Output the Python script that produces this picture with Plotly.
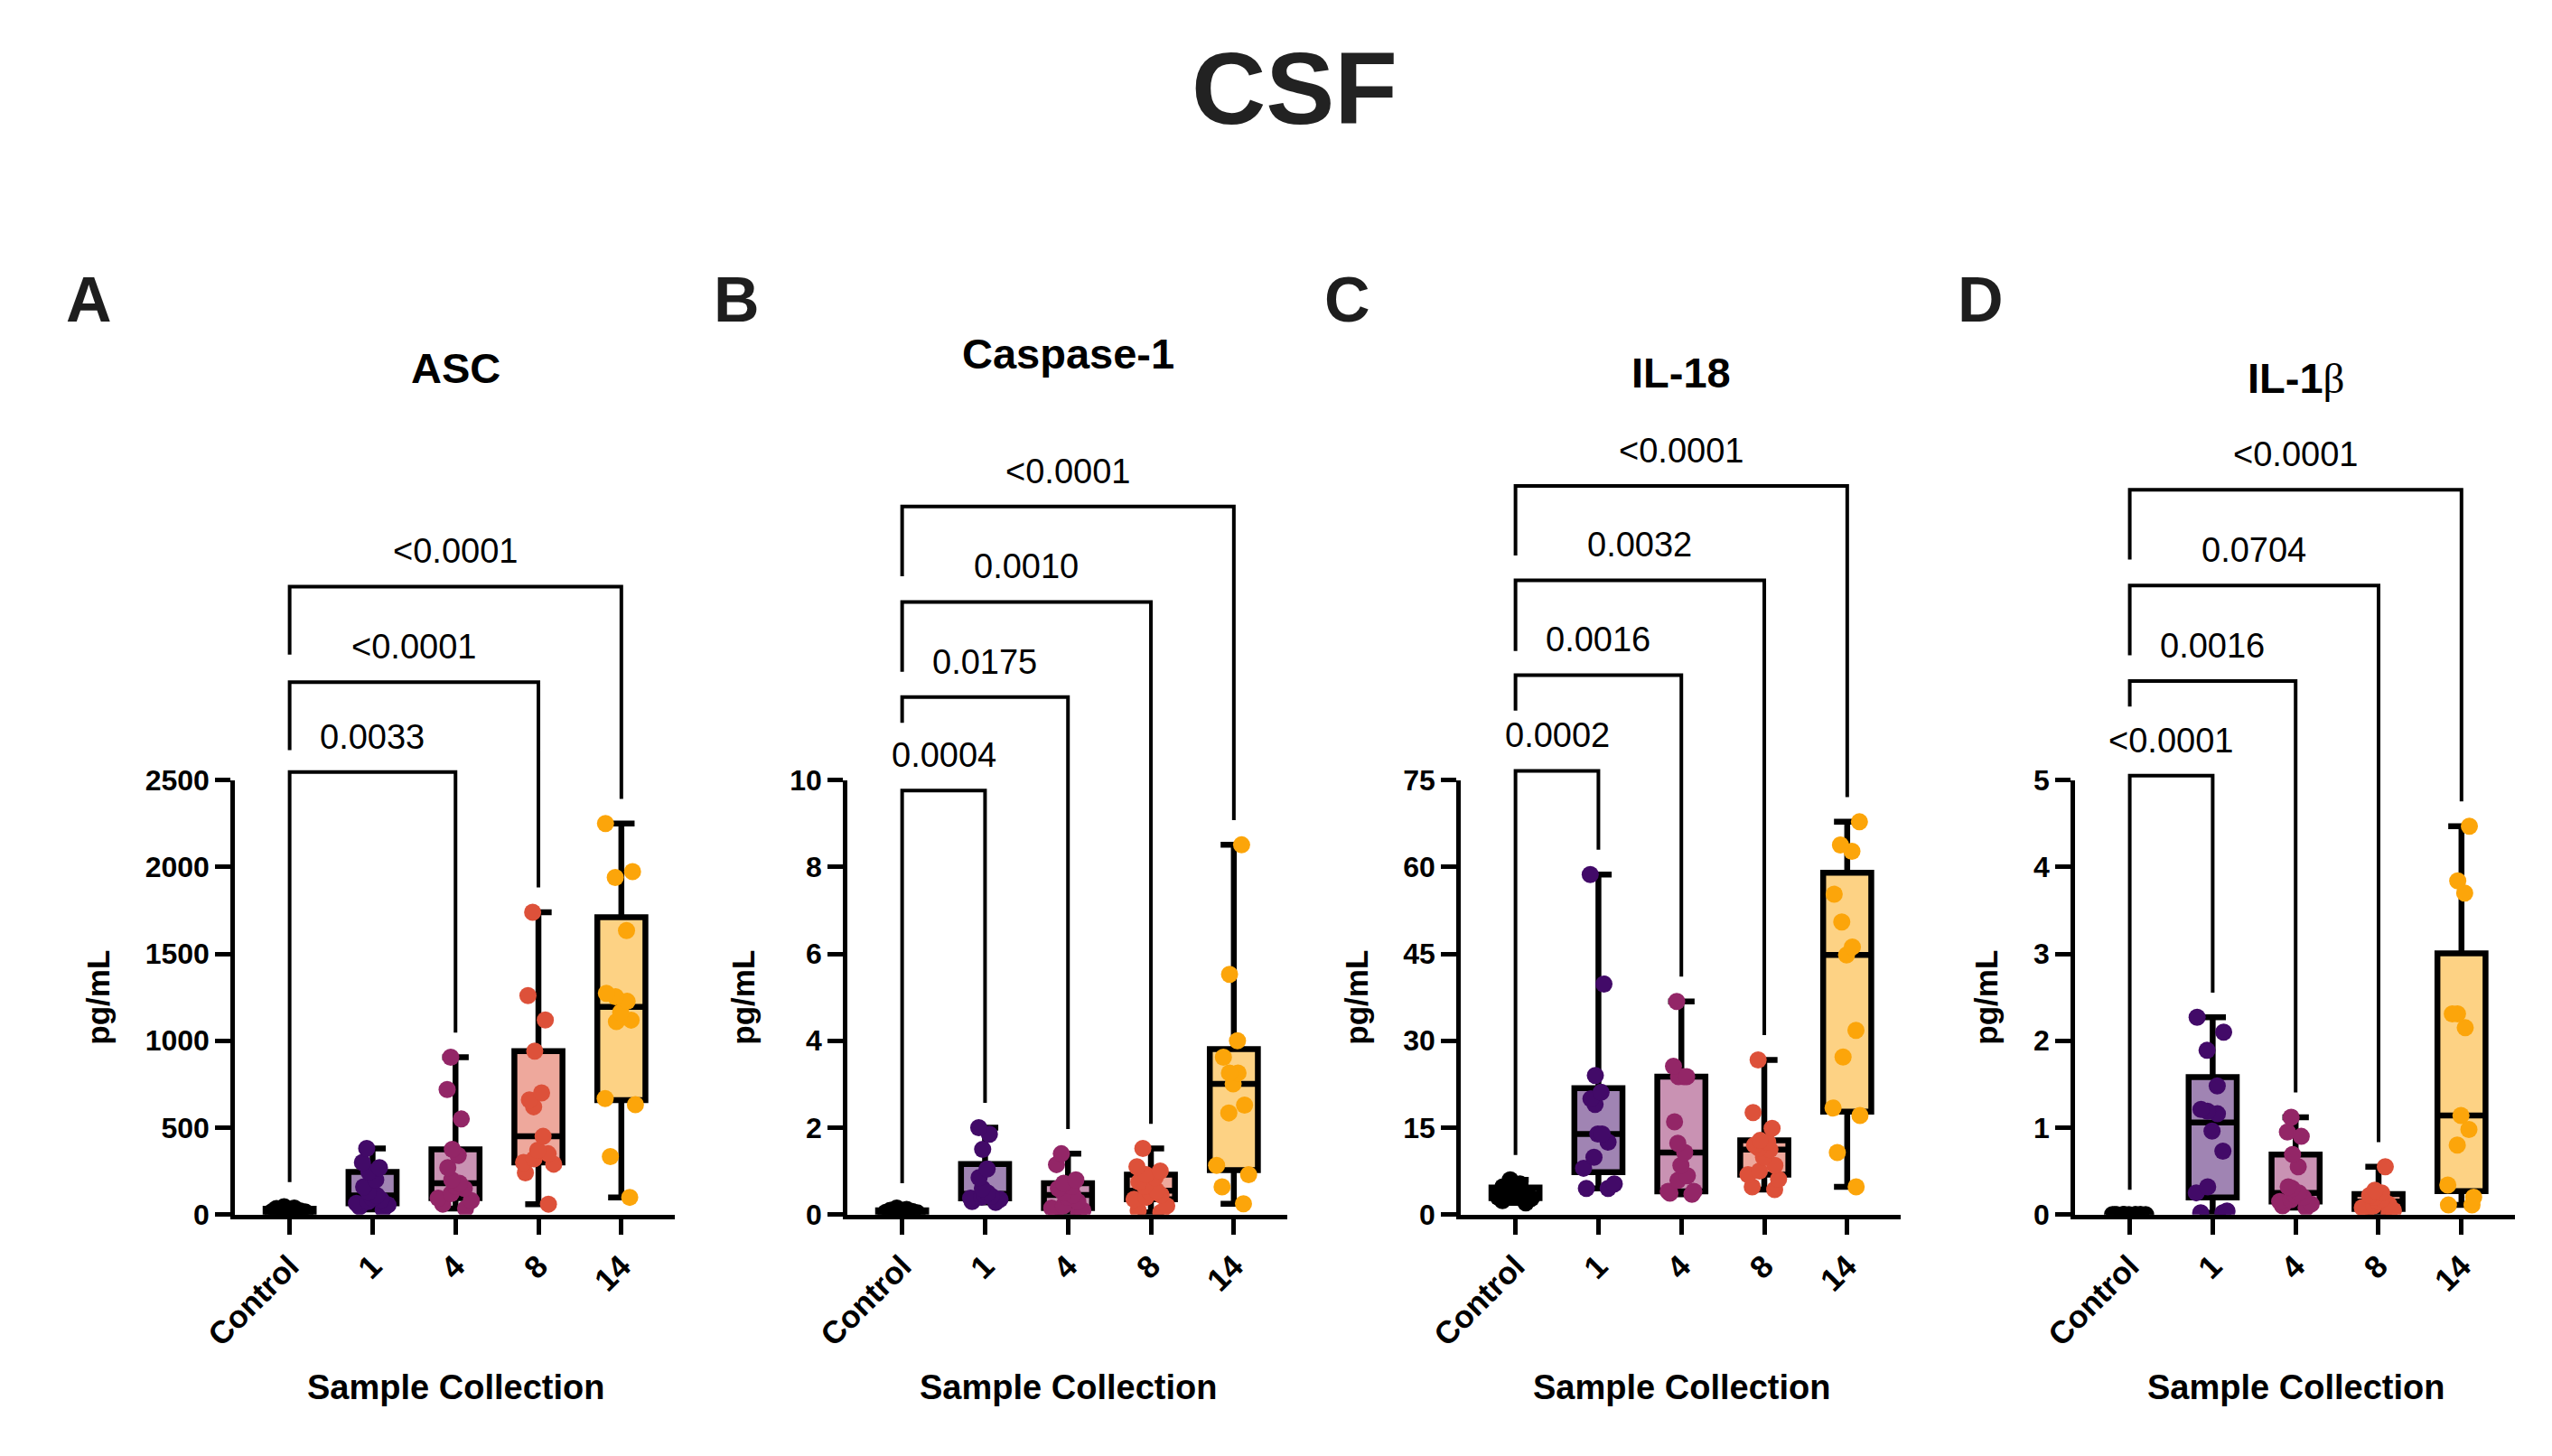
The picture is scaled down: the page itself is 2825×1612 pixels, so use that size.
import numpy as np
import plotly.graph_objects as go

# ---- data ----
groups = ["Control", "1", "4", "8", "14"]

asc_ctrl = [8, 12, 15, 18, 20, 22, 25, 28, 30, 35, 38, 45]
asc_d1 = [30, 45, 55, 65, 75, 85, 95, 110, 130, 160, 200, 245, 270, 300, 380]
asc_d4 = [35, 60, 80, 95, 120, 150, 165, 180, 200, 270, 340, 375, 550, 720, 905]
asc_d8 = [60, 240, 290, 300, 320, 350, 370, 450, 620, 660, 700, 940, 1120, 1260, 1740]
asc_d14 = [99, 334, 632, 668, 1110, 1119, 1164, 1227, 1254, 1273, 1634, 1940, 1973, 2250]

casp_ctrl = [0.02, 0.03, 0.04, 0.05, 0.05, 0.07, 0.08, 0.09, 0.1, 0.1, 0.12, 0.15]
casp_d1 = [0.28, 0.3, 0.35, 0.38, 0.4, 0.42, 0.45, 0.5, 0.6, 0.85, 1.05, 1.5, 1.85, 2.0]
casp_d4 = [0.05, 0.08, 0.1, 0.15, 0.2, 0.3, 0.4, 0.45, 0.5, 0.6, 0.65, 0.72, 0.8, 1.15, 1.4]
casp_d8 = [0.05, 0.1, 0.2, 0.35, 0.4, 0.45, 0.5, 0.55, 0.65, 0.75, 0.85, 0.92, 1.0, 1.1, 1.52]
casp_d14 = [0.25, 0.64, 0.92, 1.13, 2.34, 2.52, 3.01, 3.26, 3.26, 3.62, 4.0, 5.53, 8.51]

il18_ctrl = [2.0, 2.4, 2.8, 3.0, 3.2, 3.5, 3.7, 4.0, 4.3, 4.8, 5.3, 6.0]
il18_d1 = [4.5, 4.5, 5.3, 8.0, 9.9, 12.5, 13.9, 13.9, 19.0, 20.0, 21.1, 24.0, 39.8, 58.7]
il18_d4 = [3.5, 3.7, 4.0, 4.0, 5.9, 6.7, 8.5, 10.7, 12.3, 16.0, 23.8, 23.8, 23.8, 25.6, 36.8]
il18_d8 = [4.3, 4.8, 6.1, 6.9, 7.5, 8.5, 9.9, 11.2, 11.5, 12.0, 12.5, 12.8, 14.9, 17.6, 26.7]
il18_d14 = [4.8, 10.7, 17.1, 18.4, 27.2, 31.8, 44.8, 46.2, 50.5, 55.3, 62.7, 63.8, 67.8]

il1b_ctrl = [0, 0, 0, 0, 0, 0, 0, 0, 0, 0, 0, 0]
il1b_d1 = [0.02, 0.02, 0.04, 0.25, 0.32, 0.73, 0.96, 1.16, 1.19, 1.21, 1.48, 1.89, 2.1, 2.27]
il1b_d4 = [0.08, 0.1, 0.12, 0.15, 0.17, 0.2, 0.22, 0.25, 0.3, 0.32, 0.55, 0.69, 0.9, 0.95, 1.12]
il1b_d8 = [0.02, 0.03, 0.05, 0.08, 0.1, 0.12, 0.15, 0.18, 0.2, 0.22, 0.25, 0.28, 0.55]
il1b_d14 = [0.11, 0.11, 0.2, 0.34, 0.8, 0.98, 1.14, 2.15, 2.31, 2.31, 3.70, 3.84, 4.47]

panel_letters = ["A", "B", "C", "D"]
panel_titles = ["ASC", "Caspase-1",  "IL-18",
                "IL-1<span style='font-family:Liberation Serif;font-weight:normal'>β</span>"]
y_max = [2500, 10, 75, 5]
y_ticks = [[0, 500, 1000, 1500, 2000, 2500], [0, 2, 4, 6, 8, 10],
           [0, 15, 30, 45, 60, 75], [0, 1, 2, 3, 4, 5]]

# comparison brackets: Control vs group index, level on y scale, p-value text
asc_targets, asc_levels, asc_p = [2, 3, 4], [2546, 3064, 3613], ["0.0033", "<0.0001", "<0.0001"]
casp_targets, casp_levels, casp_p = [1, 2, 3, 4], [9.76, 11.91, 14.1, 16.3], ["0.0004", "0.0175", "0.0010", "<0.0001"]
il18_targets, il18_levels, il18_p = [1, 2, 3, 4], [76.6, 93.1, 109.5, 125.8], ["0.0002", "0.0016", "0.0032", "<0.0001"]
il1b_targets, il1b_levels, il1b_p = [1, 2, 3, 4], [5.05, 6.14, 7.24, 8.34], ["<0.0001", "0.0016", "0.0704", "<0.0001"]

panels = [
    [asc_ctrl, asc_d1, asc_d4, asc_d8, asc_d14],
    [casp_ctrl, casp_d1, casp_d4, casp_d8, casp_d14],
    [il18_ctrl, il18_d1, il18_d4, il18_d8, il18_d14],
    [il1b_ctrl, il1b_d1, il1b_d4, il1b_d8, il1b_d14],
]
brackets = [
    (asc_targets, asc_levels, asc_p),
    (casp_targets, casp_levels, casp_p),
    (il18_targets, il18_levels, il18_p),
    (il1b_targets, il1b_levels, il1b_p),
]

# ---- style ----
point_colors = ["#000000", "#420a68", "#932667", "#dd513a", "#fca50a"]
box_fills = ["rgba(0,0,0,0.5)", "rgba(66,10,104,0.5)", "rgba(147,38,103,0.5)",
             "rgba(221,81,58,0.5)", "rgba(252,165,10,0.5)"]
FONT = "Liberation Sans, Arial, sans-serif"
W, H = 2825, 1612
panel_left = [226, 913, 1601, 2290]   # px
panel_w = 493
plot_top, plot_bot = 865, 1357
x_range = [-0.66, 4.64]
title_y = [398, 382, 403, 410]
letter_x = [62, 789, 1474, 2184]
left_leg = [[None, 77, 77], [None, 29, 79, 79], [None, 40, 80, 79], [None, 29, 79, 79]]
leg_gap = 28       # px between data max and bracket leg end
text_gap = 40      # px between bracket and p-value text centre

plot_h = plot_bot - plot_top
dom_y = [1 - plot_bot / H, 1 - plot_top / H]


def paper_x(i, xv):
    x0 = panel_left[i] / W
    x1 = (panel_left[i] + panel_w) / W
    return x0 + (xv - x_range[0]) / (x_range[1] - x_range[0]) * (x1 - x0)


def paper_y(i, yv):
    return dom_y[0] + yv / y_max[i] * (dom_y[1] - dom_y[0])


fig = go.Figure()
shapes = []
annotations = []

for i, data in enumerate(panels):
    ax = "" if i == 0 else str(i + 1)
    for k, vals in enumerate(data):
        v = np.array(vals, dtype=float)
        fig.add_trace(go.Box(
            x=[k], y=[vals],
            q1=[np.percentile(v, 25, method="weibull")],
            median=[np.median(v)],
            q3=[np.percentile(v, 75, method="weibull")],
            lowerfence=[v.min()], upperfence=[v.max()],
            boxpoints="all", jitter=0.85, pointpos=0,
            width=0.58, whiskerwidth=0.55,
            fillcolor=box_fills[k],
            line=dict(color="black", width=6.5),
            marker=dict(color=point_colors[k], size=19, line=dict(width=0)),
            xaxis="x" + ax, yaxis="y" + ax, showlegend=False, hoverinfo="y",
        ))

    fig.layout["xaxis" + ax] = dict(
        domain=[panel_left[i] / W, (panel_left[i] + panel_w) / W],
        anchor="y" + ax, range=x_range, tickvals=list(range(5)), ticktext=groups,
        tickangle=-45, ticks="outside", ticklen=18, tickwidth=4.5, tickcolor="black",
        showline=True, linewidth=4.5, linecolor="black", showgrid=False, zeroline=False,
        tickfont=dict(family=FONT, size=35, color="black", weight="bold"),
    )
    fig.layout["yaxis" + ax] = dict(
        domain=dom_y, anchor="x" + ax, range=[0, y_max[i]], tickvals=y_ticks[i],
        ticks="outside", ticklen=17, tickwidth=4.5, tickcolor="black",
        showline=True, linewidth=4.5, linecolor="black", showgrid=False, zeroline=False,
        tickfont=dict(family=FONT, size=32, color="black", weight="bold"),
        title=dict(text="pg/mL", standoff=30,
                   font=dict(family=FONT, size=35, color="black", weight="bold")),
    )

    # brackets and p-values
    unit = y_max[i] / plot_h
    targets, levels, pvals = brackets[i]
    ctrl_max = max(data[0])
    for j, (t, lev, p) in enumerate(zip(targets, levels, pvals)):
        if left_leg[i][j] is None:
            lb = ctrl_max + leg_gap * unit
        else:
            lb = lev - left_leg[i][j] * unit
        rb = max(data[t]) + leg_gap * unit
        path = "M {:.5f},{:.5f} L {:.5f},{:.5f} L {:.5f},{:.5f} L {:.5f},{:.5f}".format(
            paper_x(i, 0), paper_y(i, lb), paper_x(i, 0), paper_y(i, lev),
            paper_x(i, t), paper_y(i, lev), paper_x(i, t), paper_y(i, rb))
        shapes.append(dict(type="path", xref="paper", yref="paper", path=path,
                           line=dict(color="black", width=4)))
        annotations.append(dict(
            text=p, xref="paper", yref="paper", x=paper_x(i, t / 2),
            y=paper_y(i, lev + text_gap * unit), xanchor="center", yanchor="middle",
            showarrow=False, font=dict(family=FONT, size=38, color="black")))

    # panel title, letter, x title
    annotations.append(dict(
        text=panel_titles[i], xref="x" + ax, yref="paper", x=2, y=1 - title_y[i] / H,
        xanchor="center", yanchor="middle", showarrow=False,
        font=dict(family=FONT, size=47, color="black", weight="bold")))
    annotations.append(dict(
        text=panel_letters[i], xref="paper", yref="paper", x=letter_x[i] / W, y=1 - 321 / H,
        xanchor="center", yanchor="middle", showarrow=False,
        font=dict(family=FONT, size=70, color="#1e1e1e", weight="bold")))
    annotations.append(dict(
        text="Sample Collection", xref="x" + ax, yref="paper", x=2, y=1 - 1553 / H,
        xanchor="center", yanchor="middle", showarrow=False,
        font=dict(family=FONT, size=38, color="black", weight="bold")))

annotations.append(dict(
    text="CSF", xref="paper", yref="paper", x=1415 / W, y=1 - 81 / H,
    xanchor="center", yanchor="middle", showarrow=False,
    font=dict(family=FONT, size=114, color="#222222", weight="bold")))

fig.update_layout(
    width=W, height=H, margin=dict(l=0, r=0, t=0, b=0),
    paper_bgcolor="white", plot_bgcolor="white",
    boxmode="overlay", showlegend=False,
    shapes=shapes, annotations=annotations,
)

fig.write_html("out.html", config={"displayModeBar": False},
               post_script="document.body.style.margin = '0';")
